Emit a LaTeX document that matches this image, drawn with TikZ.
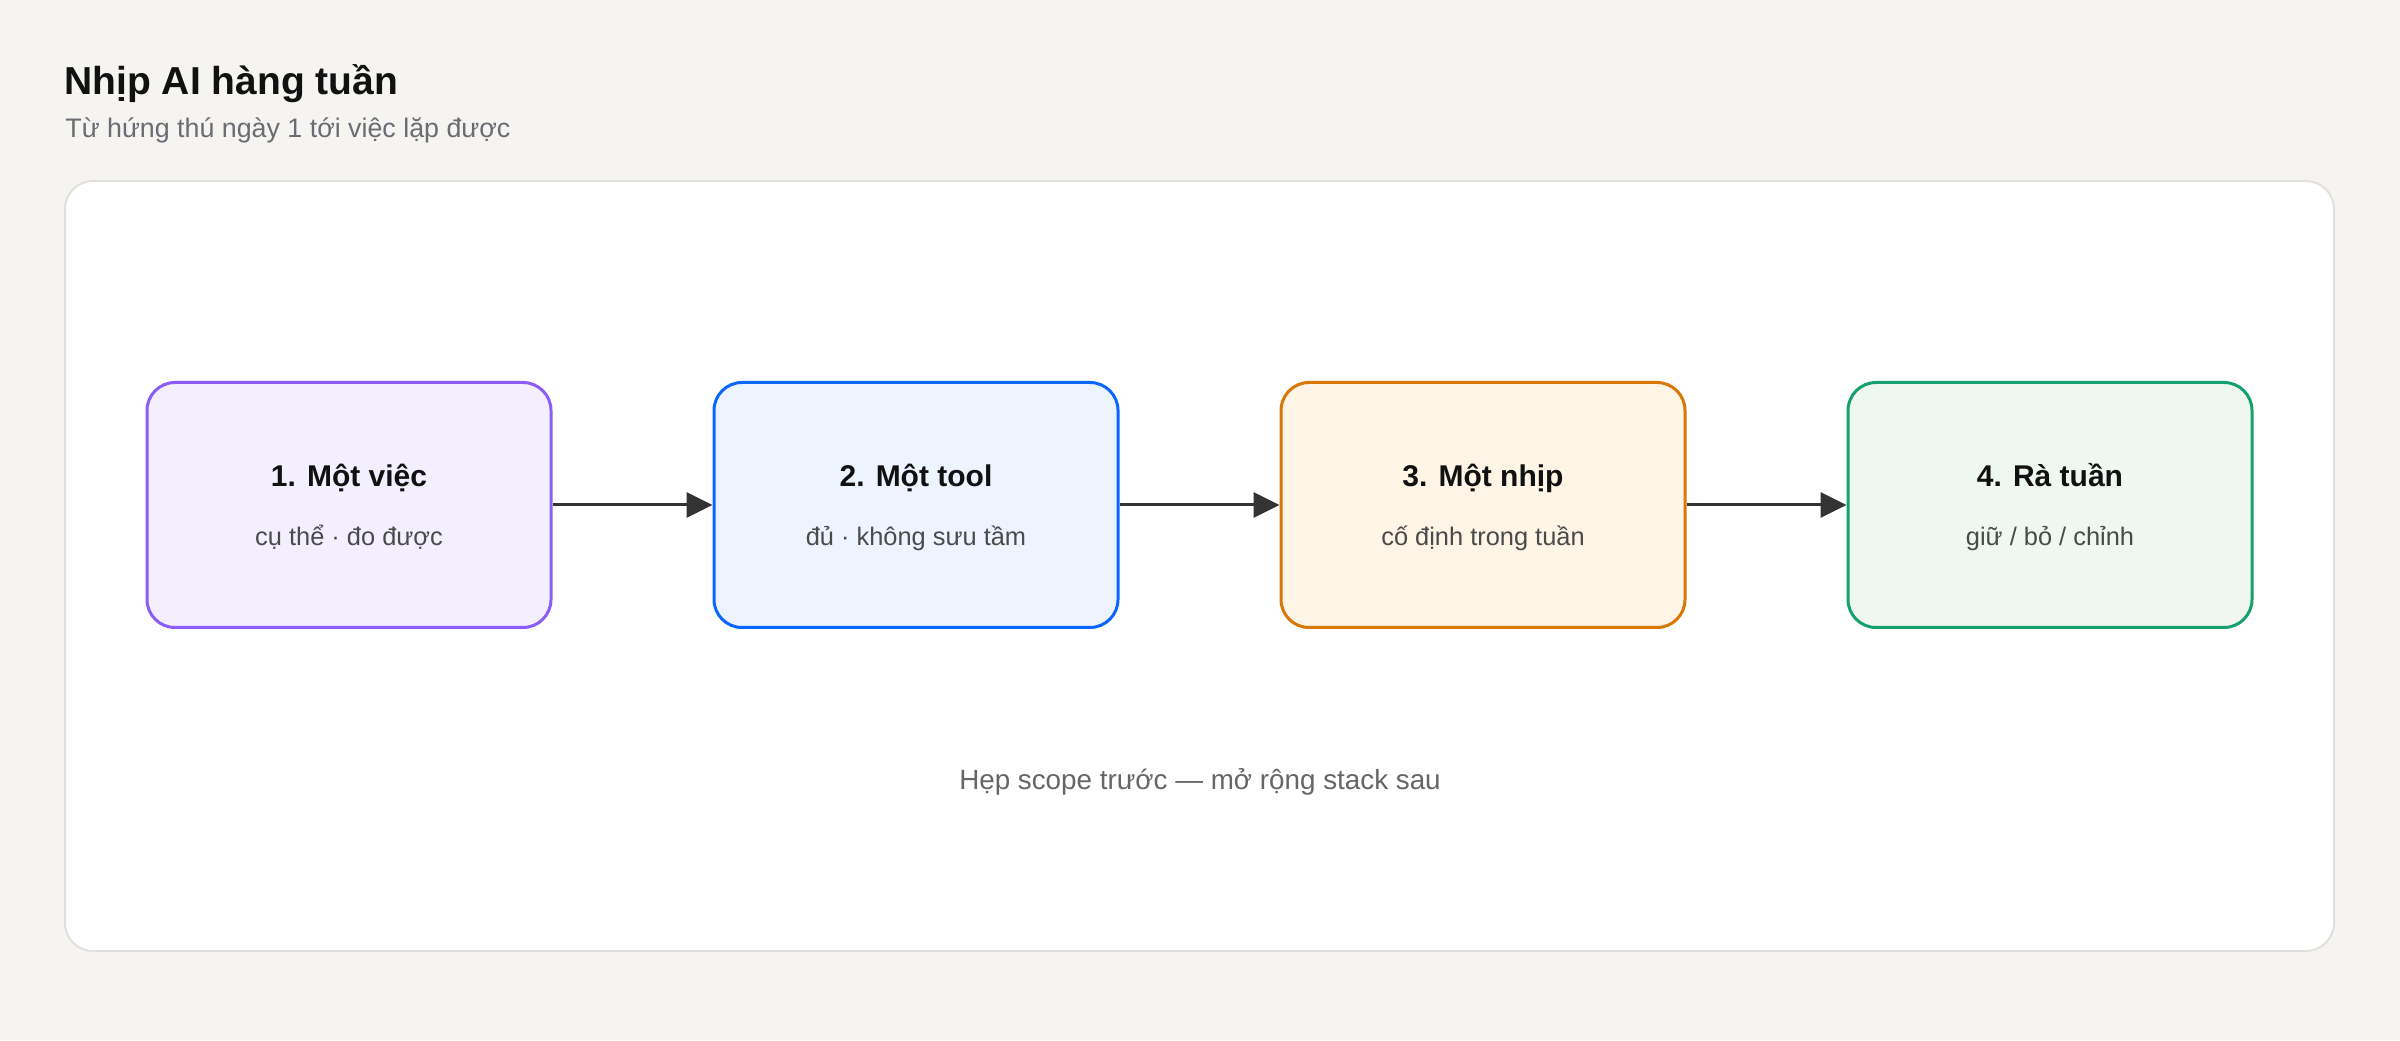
\documentclass[tikz,border=0pt]{standalone}
\usepackage{fontspec}
\setmainfont{Liberation Sans}
\usetikzlibrary{
  positioning,
  arrows.meta,
  calc
}
\definecolor{bgcolor}{HTML}{F5F4F1}
\definecolor{panelline}{HTML}{E2E0DC}
\definecolor{titlecolor}{HTML}{111111}
\definecolor{subcolor}{HTML}{6B6B73}
\definecolor{textcolor}{HTML}{4A4A4A}
\definecolor{captioncolor}{HTML}{666666}
\definecolor{linecol}{HTML}{333333}
\definecolor{violetline}{HTML}{8B5CF6}
\definecolor{violetfill}{HTML}{F3EFFE}
\definecolor{blueline}{HTML}{0B66FF}
\definecolor{bluefill}{HTML}{EDF4FF}
\definecolor{orangeline}{HTML}{D97706}
\definecolor{orangefill}{HTML}{FEF5E7}
\definecolor{greenline}{HTML}{16A06F}
\definecolor{greenfill}{HTML}{EEF8F1}
\tikzset{
  stepbox/.style 2 args={
    rectangle,
    draw=#1,
    fill=#2,
    line width=1.5pt,
    rounded corners=14pt,
    minimum width=202pt,
    minimum height=122.5pt
  },
  arrow/.style={
    -{Triangle[length=13pt,width=12.5pt]},
    line width=1.5pt,
    color=linecol
  },
  boxtitle/.style={
    anchor=base,
    font=\fontsize{15}{18}\selectfont\bfseries,
    text=titlecolor
  },
  boxtext/.style={
    anchor=base,
    font=\fontsize{12.7}{15}\selectfont,
    text=textcolor
  }
}

\begin{document}
\begin{tikzpicture}[x=0.5pt, y=0.5pt]

  % Background and panel
  \fill[bgcolor] (0,0) rectangle (2400,1040);
  \useasboundingbox (0,0) rectangle (2400,1040);
  \filldraw[fill=white, draw=panelline, line width=1pt, rounded corners=14pt]
    (65,89) rectangle (2334,859);

  % Heading
  \node[anchor=base west, inner sep=0pt, font=\fontsize{19.5}{22}\selectfont\bfseries, text=titlecolor]
    (heading) at (64,945) {Nhịp AI hàng tuần};
  \node[anchor=base west, inner sep=0pt, font=\fontsize{13.4}{16}\selectfont, text=subcolor]
    (subheading) at (65,902) {Từ hứng thú ngày 1 tới việc lặp được};

  % Steps
  \node[stepbox={violetline}{violetfill}] (step1) at (349,535) {};
  \node[stepbox={blueline}{bluefill}, right=80pt of step1] (step2) {};
  \node[stepbox={orangeline}{orangefill}, right=80pt of step2] (step3) {};
  \node[stepbox={greenline}{greenfill}, right=80pt of step3] (step4) {};

  \node[boxtitle] (title1) at ([yshift=9pt]step1.center) {1. Một việc};
  \node[boxtext] (text1) at ([yshift=-20.5pt]step1.center) {cụ thể · đo được};

  \node[boxtitle] (title2) at ([yshift=9pt]step2.center) {2. Một tool};
  \node[boxtext] (text2) at ([yshift=-20.5pt]step2.center) {đủ · không sưu tầm};

  \node[boxtitle] (title3) at ([yshift=9pt]step3.center) {3. Một nhịp};
  \node[boxtext] (text3) at ([yshift=-20.5pt]step3.center) {cố định trong tuần};

  \node[boxtitle] (title4) at ([yshift=9pt]step4.center) {4. Rà tuần};
  \node[boxtext] (text4) at ([yshift=-20.5pt]step4.center) {giữ / bỏ / chỉnh};

  % Arrows
  \draw[arrow] (step1) -- (step2);
  \draw[arrow] (step2) -- (step3);
  \draw[arrow] (step3) -- (step4);

  % Caption
  \node[anchor=base, font=\fontsize{13.9}{16}\selectfont, text=captioncolor] (caption) at (1200,250)
    {Hẹp scope trước — mở rộng stack sau};

\end{tikzpicture}
\end{document}
